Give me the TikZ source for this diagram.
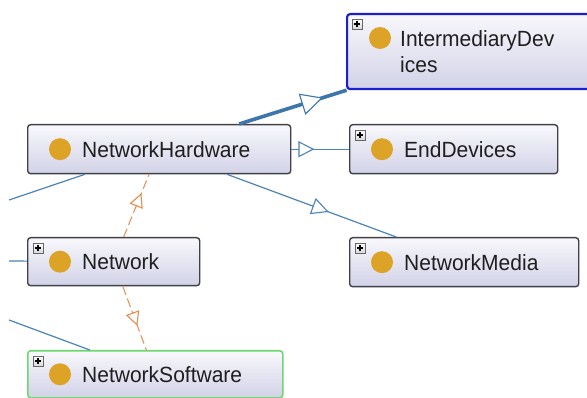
\documentclass[tikz,border=0pt]{standalone}
\usepackage{fontspec}
\setmainfont{Liberation Sans}[FakeStretch=0.955]
\usetikzlibrary{arrows.meta,decorations.markings,calc}
\definecolor{edgeblue}{RGB}{74,132,184}
\definecolor{thickblue}{RGB}{60,118,170}
\definecolor{orangeedge}{RGB}{232,140,80}
\definecolor{boxborder}{RGB}{64,64,72}
\definecolor{idborder}{RGB}{30,30,205}
\definecolor{nsborder}{RGB}{110,215,110}
\definecolor{dotcol}{RGB}{220,163,38}
\definecolor{boxtop}{RGB}{248,248,252}
\definecolor{boxbot}{RGB}{210,210,232}
\tikzset{
  classbox/.style={rectangle, rounded corners=3pt, draw=boxborder, line width=1.4pt,
    top color=boxtop, bottom color=boxbot, inner sep=0pt, anchor=north west},
  lab/.style={font=\fontsize{22}{26}\selectfont, inner sep=0pt, text=black!88},
  dot/.style={circle, fill=dotcol, minimum size=22pt, inner sep=0pt},
  plusicon/.style={rectangle, draw=gray!80!black, line width=0.6pt, top color=white,
    bottom color=gray!30, minimum size=10pt, inner sep=0pt,
    path picture={\draw[black, line width=1.3pt]
      ([xshift=-3pt]path picture bounding box.center) -- ([xshift=3pt]path picture bounding box.center)
      ([yshift=-3pt]path picture bounding box.center) -- ([yshift=3pt]path picture bounding box.center);}},
  isa/.style={draw=edgeblue, line width=1.2pt},
  isathick/.style={draw=thickblue, line width=3.6pt},
  prop/.style={draw=orangeedge, line width=1pt, dash pattern=on 9pt off 4pt},
  midtri/.style n args={2}{postaction={decorate}, decoration={markings,
    mark=at position #1 with {\arrow{Triangle[length=#2pt, width=#2pt, fill=white, line width=1.1pt]}}}}
}
\newcommand{\owlclass}[7]{%
  \node[classbox,#6,minimum width=#4pt,minimum height=#5pt] (#1) at (#2,#3) {};
  \node[dot] (#1-dot) at ($(#1.west)+(33,0)$) {};
  \node[lab,anchor=west] (#1-lab) at ($(#1.west)+(55,0)$) {#7};
}
\begin{document}
\begin{tikzpicture}[x=1pt,y=-1pt]
\clip (0,0) rectangle (587,398);
\fill[white] (0,0) rectangle (587,398);

% free ends of edges leaving the picture
\coordinate (L1) at (9,200);
\coordinate (L2) at (9,261);
\coordinate (L3) at (9,320);

% class boxes
\owlclass{NH}{27}{124}{263}{49}{}{NetworkHardware}
\owlclass{ED}{349}{124}{208}{49}{}{EndDevices}
\owlclass{NM}{349}{237}{229}{49}{}{NetworkMedia}
\owlclass{NW}{27}{237}{172}{48}{}{Network}
\owlclass{NS}{27}{350}{255}{47}{draw=nsborder,line width=1.6pt}{NetworkSoftware}

\node[classbox, draw=idborder, line width=2.2pt, minimum width=244pt, minimum height=75pt] (ID) at (346,13) {};
\node[dot] (ID-dot) at (380,38) {};
\node[lab, anchor=north west, align=left] (ID-lab) at (400,30) {IntermediaryDev\\ices};

% plus icons
\node[plusicon] (ID-plus) at ($(ID.north west)+(11,11)$) {};
\node[plusicon] (ED-plus) at ($(ED.north west)+(11,11)$) {};
\node[plusicon] (NM-plus) at ($(NM.north west)+(11,11)$) {};
\node[plusicon] (NW-plus) at ($(NW.north west)+(11,11)$) {};
\node[plusicon] (NS-plus) at ($(NS.north west)+(11,11)$) {};

% edges
\draw[isathick, midtri={0.78}{22}] (NH) -- (ID);
\draw[isa, midtri={0.40}{16}] (NH) -- (ED);
\draw[isa, midtri={0.60}{17}] (NH) -- (NM);
\draw[isa] (L1) -- (NH);
\draw[isa] (L2) -- (NW);
\draw[isa] (L3) -- (NS);
\draw[prop, midtri={0.70}{14}] (NW) -- (NH);
\draw[prop, midtri={0.62}{14}] (NW) -- (NS);
\end{tikzpicture}
\end{document}
